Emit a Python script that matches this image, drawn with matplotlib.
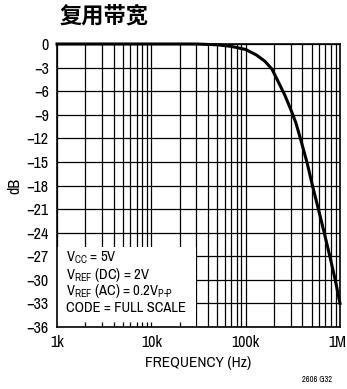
import numpy as np
import matplotlib
matplotlib.use("Agg")
import matplotlib.pyplot as plt
from matplotlib.patches import Rectangle
from matplotlib.transforms import ScaledTranslation
from matplotlib import font_manager as fm

# dados
freq_hz = [1e3, 1e4, 3e4, 5e4, 7e4, 1e5, 1.3e5, 1.6e5, 1.9e5, 2.3e5, 2.6e5,
           3e5, 3.4e5, 3.8e5, 4.5e5, 5.1e5, 5.9e5, 6.8e5, 7.8e5, 8.9e5, 1e6]
ganho_db = [0, 0, 0, -0.1, -0.3, -0.7, -1.4, -2.2, -3.2, -5.2, -6.5,
            -8.3, -10, -12, -15.2, -18, -21, -24, -27, -30, -33]
yticks = list(range(0, -37, -3))
xticks = [1e3, 1e4, 1e5, 1e6]
xtick_labels = ["1k", "10k", "100k", "1M"]
legenda = [r"V$_\mathregular{CC}$ = 5V",
           r"V$_\mathregular{REF}$ (DC) = 2V",
           r"V$_\mathregular{REF}$ (AC) = 0.2V$_\mathregular{P\text{-}P}$",
           "CODE = FULL SCALE"]

# fonte estreita parecida com Helvetica Narrow
nomes = {f.name for f in fm.fontManager.ttflist}
fonte = "DejaVu Sans"
for n in ["Archivo Narrow", "Roboto Condensed", "PT Sans Narrow", "Liberation Sans Narrow"]:
    if n in nomes:
        fonte = n
        break
plt.rcParams["font.family"] = [fonte, "DejaVu Sans"]
plt.rcParams["mathtext.fontset"] = "custom"
plt.rcParams["mathtext.rm"] = fonte
plt.rcParams["axes.unicode_minus"] = True

fig = plt.figure(figsize=(3.47, 3.89), dpi=100)
ax = fig.add_axes([57/347, 62/389, 283/347, 283/389])
ax.set_axisbelow(True)

ax.plot(freq_hz, ganho_db, color="black", lw=2.2, zorder=4, clip_on=False)
ax.set_xscale("log")
ax.set_xlim(1e3, 1e6)
ax.set_ylim(-36, 0)
ax.set_yticks(yticks)
ax.set_xticks(xticks)
ax.set_xticklabels(xtick_labels)
ax.minorticks_on()
ax.yaxis.set_minor_locator(matplotlib.ticker.NullLocator())
ax.xaxis.set_minor_formatter(matplotlib.ticker.NullFormatter())
ax.grid(True, which="both", axis="x", color="black", lw=0.9)
ax.grid(True, which="major", axis="y", color="black", lw=0.9)
ax.tick_params(axis="both", which="both", direction="in", labelsize=11.5, length=0, pad=6)
for s in ax.spines.values():
    s.set_linewidth(1.2)
# "1M" um pouco para a esquerda para nao cortar
ultimo = ax.get_xticklabels()[-1]
ultimo.set_transform(ultimo.get_transform() + ScaledTranslation(-3/100, 0, fig.dpi_scale_trans))

# caixa da legenda
caixa = Rectangle((0, 0), 139/283, 80/283, transform=ax.transAxes,
                  facecolor="white", edgecolor="none", zorder=2)
ax.add_patch(caixa)
marcas = [2e3, 3e3, 4e3, 5e3, 6e3, 7e3, 8e3, 9e3, 1e4, 2e4]
ax.vlines(marcas, 0, 5/283, transform=ax.get_xaxis_transform(),
          color="black", lw=0.9, zorder=3)
for i, t in enumerate(legenda):
    ax.text(9/283, (69 - i*16.5)/283, t, transform=ax.transAxes,
            fontsize=10.5, va="center", ha="left", zorder=5)

ax.set_xlabel("FREQUENCY (Hz)", fontsize=11, labelpad=4)
ax.set_ylabel("dB", fontsize=11.5, labelpad=3)

fig.text(59/347, 1 - 16/389, "复用带宽", fontsize=16, fontweight="bold",
         family=["Noto Sans CJK SC", "DejaVu Sans"], va="center", ha="left")
fig.text(332/347, 1 - 380/389, "2606 G32", fontsize=6, ha="right", va="center")

fig.savefig("out.png", dpi=100)
